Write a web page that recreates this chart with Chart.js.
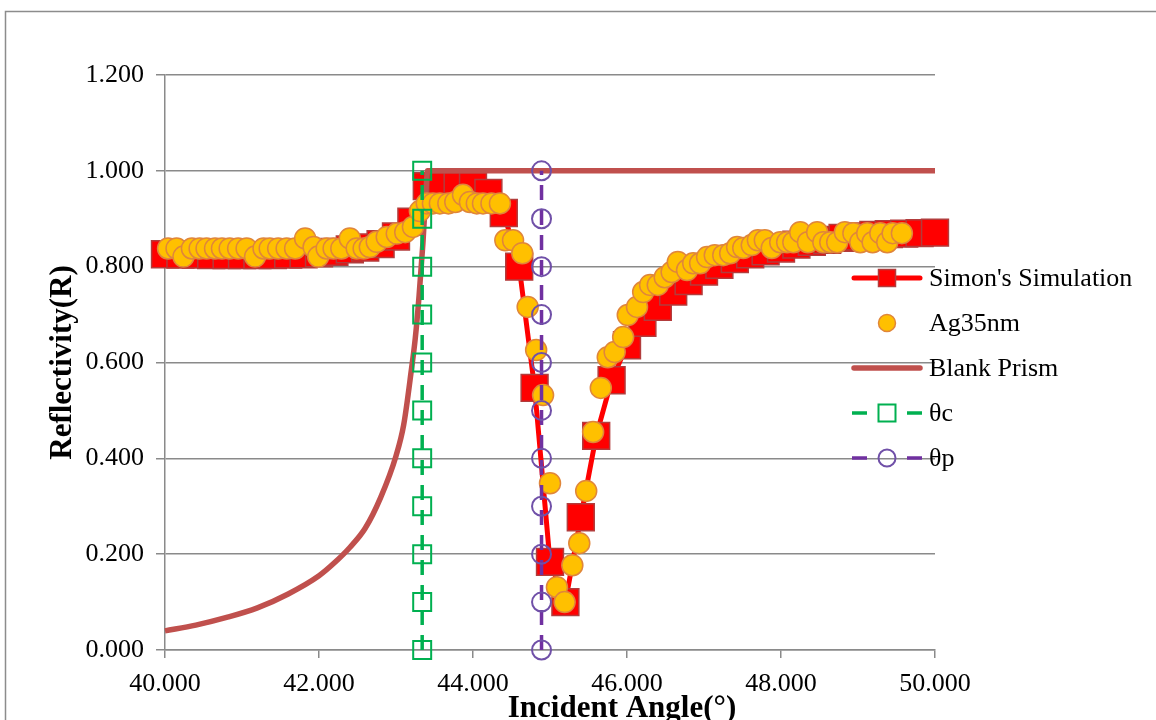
<!DOCTYPE html>
<html>
<head>
<meta charset="utf-8">
<script src="https://cdn.jsdelivr.net/npm/chart.js@4/dist/chart.umd.min.js"></script>
<style>
  html, body { margin: 0; padding: 0; background: #ffffff; }
  canvas { display: block; }
</style>
</head>
<body>
<canvas id="chart" width="1156" height="720"></canvas>
<script>
// ---- data ----
const simAngles = [40.0, 40.2, 40.4, 40.6, 40.8, 41.0, 41.2, 41.4, 41.6, 41.8,
  42.0, 42.2, 42.4, 42.6, 42.8, 43.0, 43.2, 43.4, 43.6, 43.8,
  44.0, 44.2, 44.4, 44.6, 44.8, 45.0, 45.2, 45.4, 45.6, 45.8,
  46.0, 46.2, 46.4, 46.6, 46.8, 47.0, 47.2, 47.4, 47.6, 47.8,
  48.0, 48.2, 48.4, 48.6, 48.8, 49.0, 49.2, 49.4, 49.6, 49.8, 50.0];
const simReflectivity = [0.826, 0.825, 0.825, 0.824, 0.824, 0.824, 0.824, 0.824, 0.825, 0.826,
  0.828, 0.831, 0.836, 0.840, 0.847, 0.863, 0.894, 0.968, 0.968, 0.968,
  0.968, 0.954, 0.912, 0.800, 0.547, 0.184, 0.100, 0.277, 0.447, 0.563,
  0.636, 0.683, 0.716, 0.748, 0.770, 0.790, 0.804, 0.816, 0.826, 0.832,
  0.838, 0.846, 0.852, 0.856, 0.860, 0.863, 0.866, 0.868, 0.869, 0.870, 0.871];

const agAngles = [40.04, 40.15, 40.24, 40.35, 40.45, 40.54, 40.65, 40.74, 40.84, 40.95,
  41.06, 41.17, 41.28, 41.36, 41.47, 41.58, 41.69, 41.82, 41.93, 41.99,
  42.10, 42.19, 42.29, 42.40, 42.49, 42.58, 42.66, 42.75, 42.88, 43.01,
  43.12, 43.22, 43.31, 43.40, 43.48, 43.57, 43.68, 43.77, 43.87, 43.96,
  44.05, 44.13, 44.24, 44.35, 44.42, 44.52, 44.64, 44.71, 44.82, 44.91,
  45.00, 45.09, 45.19, 45.29, 45.38, 45.47, 45.56, 45.66, 45.75, 45.84,
  45.95, 46.01, 46.13, 46.21, 46.30, 46.40, 46.49, 46.58, 46.66, 46.78,
  46.86, 46.95, 47.04, 47.14, 47.25, 47.34, 47.43, 47.51, 47.62, 47.70,
  47.79, 47.88, 47.99, 48.08, 48.16, 48.25, 48.35, 48.47, 48.55, 48.64,
  48.73, 48.83, 48.94, 49.03, 49.12, 49.19, 49.29, 49.38, 49.45, 49.57];
const agReflectivity = [0.838, 0.838, 0.821, 0.838, 0.838, 0.838, 0.838, 0.838, 0.838, 0.838,
  0.838, 0.821, 0.838, 0.838, 0.838, 0.838, 0.838, 0.859, 0.841, 0.821,
  0.838, 0.838, 0.838, 0.859, 0.838, 0.838, 0.841, 0.852, 0.862, 0.869,
  0.872, 0.883, 0.916, 0.932, 0.932, 0.932, 0.932, 0.935, 0.950, 0.935,
  0.932, 0.932, 0.932, 0.932, 0.855, 0.855, 0.828, 0.716, 0.626, 0.532,
  0.348, 0.131, 0.100, 0.177, 0.223, 0.332, 0.455, 0.547, 0.611, 0.622,
  0.653, 0.699, 0.716, 0.747, 0.762, 0.762, 0.778, 0.789, 0.810, 0.793,
  0.807, 0.807, 0.820, 0.824, 0.824, 0.828, 0.841, 0.839, 0.845, 0.855,
  0.855, 0.839, 0.851, 0.851, 0.851, 0.872, 0.851, 0.872, 0.851, 0.851,
  0.851, 0.872, 0.870, 0.851, 0.870, 0.851, 0.870, 0.851, 0.870, 0.870];

const blankAngles = [40.0, 40.4, 40.8, 41.2, 41.6, 42.0, 42.2, 42.4, 42.6, 42.8,
  43.0, 43.1, 43.2, 43.25, 43.3, 43.35, 43.39, 43.41, 50.0];
const blankReflectivity = [0.040, 0.052, 0.068, 0.088, 0.117, 0.155, 0.182, 0.214, 0.254, 0.318,
  0.405, 0.470, 0.585, 0.650, 0.740, 0.850, 0.960, 1.000, 1.000];

const criticalAngle = 43.34;   // θc
const plasmonAngle = 44.89;    // θp
const markerLevels = [0.0, 0.1, 0.2, 0.3, 0.4, 0.5, 0.6, 0.7, 0.8, 0.9, 1.0];

const seriesNames = ["Simon's Simulation", "Ag35nm", "Blank Prism", "θc", "θp"];

// ---- helpers ----
const FONT = "'Liberation Serif', 'Times New Roman', serif";
const GRID = '#8a8a8a';
const toPoints = (xs, ys) => xs.map((x, i) => ({ x: x, y: ys[i] }));
const verticalAt = (angle) => markerLevels.map(r => ({ x: angle, y: r }));

// white page and the outer chart frame
const framePlugin = {
  id: 'frame',
  beforeDraw(chart) {
    const ctx = chart.ctx;
    ctx.save();
    ctx.fillStyle = '#ffffff';
    ctx.fillRect(0, 0, chart.width, chart.height);
    ctx.strokeStyle = '#8c8c8c';
    ctx.lineWidth = 1.5;
    ctx.beginPath();
    ctx.moveTo(1160, 11.5);
    ctx.lineTo(5.5, 11.5);
    ctx.lineTo(5.5, 725);
    ctx.stroke();
    ctx.restore();
  }
};

// x-axis title, centred on the whole chart
const xTitlePlugin = {
  id: 'xTitle',
  afterDraw(chart) {
    const ctx = chart.ctx;
    ctx.save();
    ctx.font = 'bold 31px ' + FONT;
    ctx.fillStyle = '#000000';
    ctx.textAlign = 'center';
    ctx.textBaseline = 'alphabetic';
    ctx.fillText('Incident Angle(°)', 622, 717);
    ctx.restore();
  }
};

function drawMarker(ctx, style, x, y, size, fill, stroke, width) {
  ctx.save();
  ctx.setLineDash([]);
  ctx.lineWidth = width;
  ctx.strokeStyle = stroke;
  ctx.beginPath();
  if (style === 'rect') {
    ctx.rect(x - size / 2, y - size / 2, size, size);
  } else {
    ctx.arc(x, y, size / 2, 0, Math.PI * 2);
  }
  if (fill) { ctx.fillStyle = fill; ctx.fill(); }
  ctx.stroke();
  ctx.restore();
}

// legend drawn over the right side of the plot
const legendPlugin = {
  id: 'sideLegend',
  afterDraw(chart) {
    const ctx = chart.ctx;
    const x0 = 852, x1 = 922, xm = 887, xt = 929;
    chart.data.datasets.forEach((ds, i) => {
      const y = 278 + 45 * i;
      ctx.save();
      if (ds.showLine) {
        ctx.strokeStyle = ds.borderColor;
        ctx.lineWidth = ds.borderWidth;
        ctx.beginPath();
        if (ds.borderDash && ds.borderDash.length) {
          ctx.lineCap = 'butt';
          ctx.moveTo(x0, y); ctx.lineTo(x0 + 15, y);
          ctx.moveTo(x1 - 15, y); ctx.lineTo(x1, y);
        } else {
          ctx.lineCap = 'round';
          ctx.moveTo(x0 + 2, y); ctx.lineTo(x1 - 2, y);
        }
        ctx.stroke();
      }
      if (ds.pointRadius > 0) {
        const fill = ds.pointBackgroundColor === 'rgba(0,0,0,0)' ? null : ds.pointBackgroundColor;
        drawMarker(ctx, ds.pointStyle, xm, y, 17, fill, ds.pointBorderColor, ds.pointBorderWidth);
      }
      ctx.font = '26px ' + FONT;
      ctx.fillStyle = '#000000';
      ctx.textAlign = 'left';
      ctx.textBaseline = 'middle';
      ctx.fillText(ds.label, xt, y + 1);
      ctx.restore();
    });
  }
};

new Chart(document.getElementById('chart'), {
  type: 'scatter',
  data: {
    datasets: [
      {
        label: seriesNames[0],
        data: toPoints(simAngles, simReflectivity),
        showLine: true,
        borderColor: '#ff0000',
        borderWidth: 5,
        tension: 0,
        pointStyle: 'rect',
        pointRadius: 19,
        pointBackgroundColor: '#ff0000',
        pointBorderColor: '#b23c3c',
        pointBorderWidth: 1.5,
        clip: false,
        order: 4
      },
      {
        label: seriesNames[1],
        data: toPoints(agAngles, agReflectivity),
        showLine: false,
        pointStyle: 'circle',
        pointRadius: 10.5,
        pointBackgroundColor: '#ffc000',
        pointBorderColor: '#e0863a',
        pointBorderWidth: 1.5,
        clip: false,
        order: 2
      },
      {
        label: seriesNames[2],
        data: toPoints(blankAngles, blankReflectivity),
        showLine: true,
        borderColor: '#c0504d',
        borderWidth: 5.5,
        cubicInterpolationMode: 'monotone',
        pointRadius: 0,
        clip: false,
        order: 3
      },
      {
        label: seriesNames[3],
        data: verticalAt(criticalAngle),
        showLine: true,
        borderColor: '#00b050',
        borderWidth: 3.5,
        borderDash: [15, 10],
        pointStyle: 'rect',
        pointRadius: 12.7,
        pointBackgroundColor: 'rgba(0,0,0,0)',
        pointBorderColor: '#00b050',
        pointBorderWidth: 2,
        clip: false,
        order: 1
      },
      {
        label: seriesNames[4],
        data: verticalAt(plasmonAngle),
        showLine: true,
        borderColor: '#7030a0',
        borderWidth: 3.5,
        borderDash: [15, 10],
        pointStyle: 'circle',
        pointRadius: 9.5,
        pointBackgroundColor: 'rgba(0,0,0,0)',
        pointBorderColor: '#7050a8',
        pointBorderWidth: 2,
        clip: false,
        order: 0
      }
    ]
  },
  options: {
    responsive: false,
    animation: false,
    devicePixelRatio: 1,
    layout: { padding: { left: 0, top: 75, right: 221, bottom: 0 } },
    plugins: {
      legend: { display: false },
      tooltip: { enabled: false }
    },
    scales: {
      x: {
        type: 'linear',
        min: 40,
        max: 50,
        afterFit: (scale) => { scale.height = 70; },
        ticks: {
          stepSize: 2,
          autoSkip: false,
          maxRotation: 0,
          padding: 11,
          color: '#000000',
          font: { family: FONT, size: 26 },
          callback: (v) => Number(v).toFixed(3)
        },
        grid: {
          display: true,
          drawOnChartArea: false,
          drawTicks: true,
          tickLength: 8,
          color: GRID,
          lineWidth: 1.5
        },
        border: { display: true, color: GRID, width: 1.5 },
        title: { display: false }
      },
      y: {
        type: 'linear',
        min: 0,
        max: 1.2,
        afterFit: (scale) => { scale.width = 165; },
        ticks: {
          stepSize: 0.2,
          padding: 12,
          color: '#000000',
          font: { family: FONT, size: 26 },
          callback: (v) => Number(v).toFixed(3)
        },
        grid: {
          color: GRID,
          lineWidth: 1.5,
          drawTicks: true,
          tickLength: 9
        },
        border: { display: true, color: GRID, width: 1.5 },
        title: {
          display: true,
          text: 'Reflectivity(R)',
          color: '#000000',
          font: { family: FONT, size: 31, weight: 'bold' },
          padding: { top: 44, bottom: 0 }
        }
      }
    }
  },
  plugins: [framePlugin, xTitlePlugin, legendPlugin]
});
</script>
</body>
</html>
